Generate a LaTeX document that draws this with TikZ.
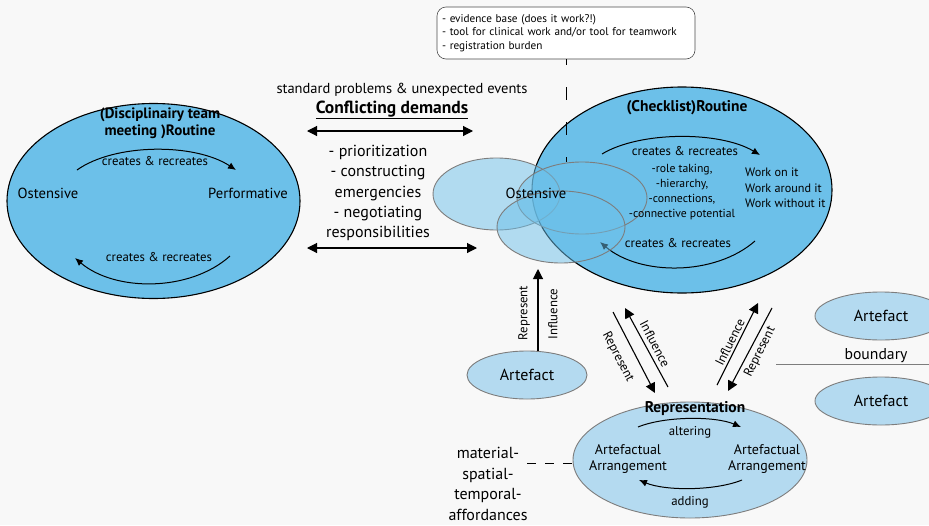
\documentclass[tikz,border=0pt]{standalone}
\usepackage{fontspec}
\setmainfont{PT Sans}
\usetikzlibrary{arrows.meta,shapes.geometric}

\definecolor{routineblue}{RGB}{108,192,233}
\definecolor{paleblue}{RGB}{180,218,240}
\definecolor{rimgray}{RGB}{125,125,125}
\definecolor{paper}{RGB}{248,248,248}

\newcommand\fsz[2]{\fontsize{#1pt}{#2pt}\selectfont}

\tikzset{
  routine/.style={ellipse, draw=black, line width=1.1pt, fill=routineblue, inner sep=0pt},
  ghost/.style={ellipse, draw=rimgray, line width=0.9pt, fill=routineblue, fill opacity=0.5, inner sep=0pt},
  artefact/.style={ellipse, draw=rimgray, line width=0.9pt, fill=paleblue, inner sep=0pt,
    font=\fsz{16}{19}},
  label/.style={inner sep=0pt, font=\fsz{12.8}{15}},
  cycle/.style={line width=1pt, -{Latex[length=8pt,width=7pt]}},
  arr/.style={line width=1.1pt, -{Triangle[length=10pt,width=10pt]}},
  twoway/.style={line width=1.1pt, {Triangle[length=10pt,width=10pt]}-{Triangle[length=10pt,width=10pt]}},
}

\begin{document}
\begin{tikzpicture}[x=1pt,y=-1pt]
\useasboundingbox (0,0) rectangle (929,525);
\fill[paper] (0,0) rectangle (929,525);
\clip (0,0) rectangle (929,525);

% ---------- disciplinary team meeting routine ----------
\node[routine, minimum width=293pt, minimum height=195pt] (team) at (153.5,201) {};
\node[inner sep=0pt, align=center, font=\bfseries\fsz{15}{17.5}] (teamtitle) at (160,123.5)
  {(Disciplinairy team\\meeting )Routine};
\node[inner sep=0pt, font=\fsz{14.6}{17}] (teamost) at (48,193) {Ostensive};
\node[inner sep=0pt, font=\fsz{14.6}{17}] (teamperf) at (248,193) {Performative};
\node[label] (teamtop) at (155,161) {creates \& recreates};
\node[label] (teambot) at (159,257) {creates \& recreates};
\coordinate (ta1) at (77,170);  \coordinate (ta2) at (236,170);
\coordinate (tb1) at (230,256); \coordinate (tb2) at (75,258);
\draw[cycle] (ta1) .. controls (115,143) and (195,143) .. (ta2);
\draw[cycle] (tb1) .. controls (190,292) and (115,292) .. (tb2);

% ---------- conflicting demands ----------
\node[inner sep=0pt, font=\fsz{14.5}{17}] (events) at (402,90) {standard problems \& unexpected events};
\node[inner sep=0pt, font=\bfseries\fsz{17.5}{20}] (conflict) at (392,110) {\underline{Conflicting demands}};
\coordinate (d1a) at (307,131); \coordinate (d1b) at (473,131);
\coordinate (d2a) at (307,248); \coordinate (d2b) at (477,248);
\draw[twoway] (d1a) -- (d1b);
\draw[twoway] (d2a) -- (d2b);
\node[inner sep=0pt, align=center, font=\fsz{16}{20.2}] (tactics) at (378,193)
  {- prioritization\\- constructing\\emergencies\\- negotiating\\responsibilities};

% ---------- checklist routine ----------
\node[routine, minimum width=300pt, minimum height=206pt] (check) at (682,190) {};
\coordinate (ca1) at (602,154); \coordinate (ca2) at (760,155);
\coordinate (cb1) at (755,241); \coordinate (cb2) at (600,242);
\draw[cycle] (ca1) .. controls (640,131) and (720,131) .. (ca2);
\draw[cycle] (cb1) .. controls (715,276) and (640,276) .. (cb2);

% note about the checklist, tied by a dashed line
\node[draw=black!70, line width=0.6pt, rounded corners=9pt, fill=white, align=left,
  font=\fsz{11.2}{13.3}, inner xsep=5pt, inner ysep=2pt, text width=248pt,
  minimum height=52pt] (note) at (566,33)
  {- evidence base (does it work?!)\\- tool for clinical work and/or tool for teamwork\\- registration burden};
\coordinate (dashend) at (566,162);
\draw[line width=1pt, dash pattern=on 13pt off 22pt, dash phase=7pt] (note.south) -- (dashend);

% overlapping ostensive aspects
\node[ghost, minimum width=127pt, minimum height=72pt] (ost1) at (496.5,194) {};
\node[ghost, minimum width=130pt, minimum height=72pt] (ost2) at (582,198) {};
\node[ghost, minimum width=128pt, minimum height=72pt] (ost3) at (561,227) {};

\node[inner sep=0pt, font=\bfseries\fsz{15.5}{18}] (checktitle) at (687,108) {(Checklist)Routine};
\node[label] (checktop) at (685,151) {creates \& recreates};
\node[label] (checkbot) at (678,243) {creates \& recreates};
\node[inner sep=0pt, align=center, font=\fsz{11.7}{15}] (roles) at (682,192)
  {-role taking,\\-hierarchy,\\-connections,\\-connective potential};
\node[inner sep=0pt, align=left, font=\fsz{12.2}{15.5}, anchor=west] (work) at (745,188)
  {Work on it\\Work around it\\Work without it};
\node[inner sep=0pt, font=\fsz{14.6}{17}] (checkost) at (536,193) {Ostensive};

% ---------- artefacts ----------
\node[artefact, minimum width=120pt, minimum height=48pt] (artL) at (527,375) {Artefact};
\node[artefact, minimum width=132pt, minimum height=48pt] (artR1) at (881,316) {Artefact};
\node[artefact, minimum width=132pt, minimum height=48pt] (artR2) at (881,401) {Artefact};
\coordinate (bnd) at (776,364);
\draw[rimgray, line width=0.9pt] (bnd) -- (bnd -| artR1.east);
\node[inner sep=0pt, font=\fsz{15.7}{18}] (boundary) at (876,356) {boundary};

% artefact to ostensive aspect
\coordinate (uptip) at (538,269);
\draw[arr] (uptip |- artL.north) -- (uptip);
\node[label, rotate=90] at (524,313) {Represent};
\node[label, rotate=90] at (553,314) {Influence};

% ---------- representation ----------
\node[ellipse, draw=rimgray, line width=0.9pt, fill=paleblue, inner sep=0pt,
  minimum width=234pt, minimum height=116pt] (repr) at (690,460) {};
\node[inner sep=0pt, font=\bfseries\fsz{15.5}{18}] (reprtitle) at (695,409) {Representation};
\node[inner sep=0pt, align=center, font=\fsz{14}{16}] (arrL) at (628,459) {Artefactual\\Arrangement};
\node[inner sep=0pt, align=center, font=\fsz{14}{16}] (arrR) at (767,459) {Artefactual\\Arrangement};
\node[label] (alter) at (690,432) {altering};
\node[label] (adding) at (690,502) {adding};
\coordinate (ra1) at (638,427); \coordinate (ra2) at (741,427);
\coordinate (rb1) at (742,480); \coordinate (rb2) at (639,480);
\draw[cycle] (ra1) .. controls (665,416) and (715,416) .. (ra2);
\draw[cycle] (rb1) .. controls (715,491) and (665,491) .. (rb2);

% affordances
\node[inner sep=0pt, align=center, font=\fsz{16}{20.5}] (afford) at (488,484)
  {material-\\spatial-\\temporal-\\affordances};
\coordinate (affend) at (527,463);
\draw[line width=1pt, dash pattern=on 9pt off 9pt] (affend) -- (affend -| repr.west);

% routine <-> representation
\coordinate (l1s) at (613,312); \coordinate (l1e) at (655,393);
\coordinate (l2s) at (668,387); \coordinate (l2e) at (625,308);
\draw[arr] (l1s) -- (l1e);
\draw[arr] (l2s) -- (l2e);
\node[label, rotate=-62.5] at (618,357) {Represent};
\node[label, rotate=-62.5] at (655,344) {Influence};
\coordinate (r1s) at (717,385); \coordinate (r1e) at (758,303);
\coordinate (r2s) at (772,308); \coordinate (r2e) at (728,391);
\draw[arr] (r1s) -- (r1e);
\draw[arr] (r2s) -- (r2e);
\node[label, rotate=63.5] at (730,342) {Influence};
\node[label, rotate=63.5] at (760,352) {Represent};
\end{tikzpicture}
\end{document}
